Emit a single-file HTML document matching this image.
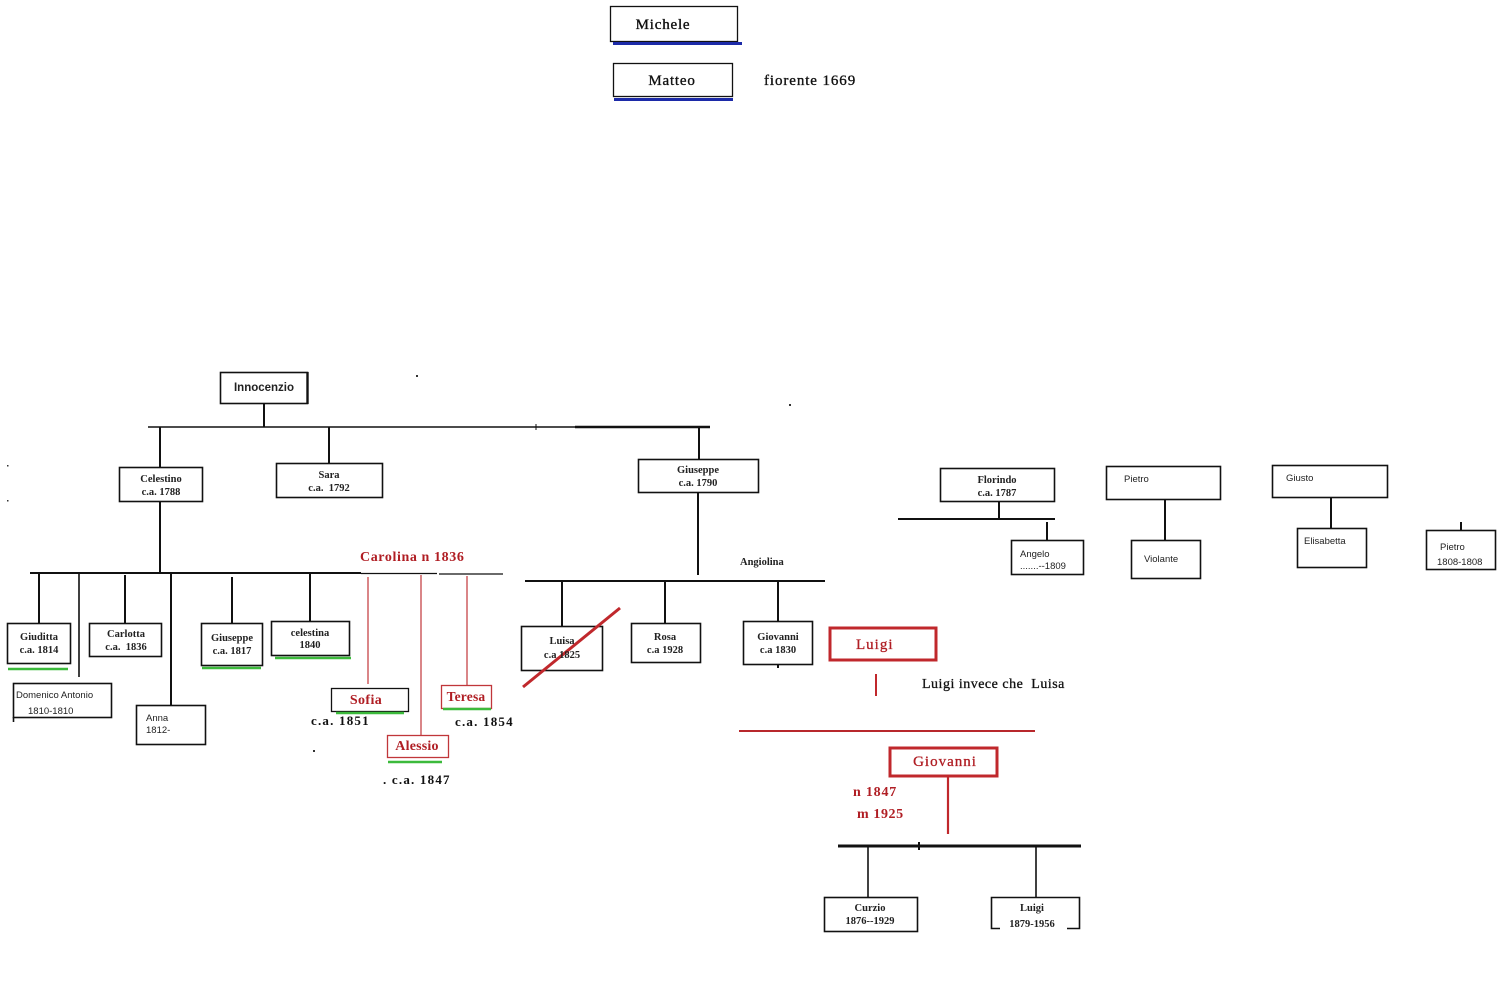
<!DOCTYPE html>
<html>
<head>
<meta charset="utf-8">
<style>
html,body{margin:0;padding:0;background:#fff;}
svg{display:block;}
.s{font-family:"Liberation Serif",serif;}
.a{font-family:"Liberation Sans",sans-serif;}
</style>
</head>
<body>
<svg width="1500" height="1000" viewBox="0 0 1500 1000" xmlns="http://www.w3.org/2000/svg">
<rect x="0" y="0" width="1500" height="1000" fill="#fff"/>

<!-- Top: Michele / Matteo -->
<g fill="none" stroke="#111" stroke-width="1.3">
  <rect x="610.5" y="6.5" width="127" height="35"/>
  <rect x="613.5" y="63.5" width="119" height="33"/>
</g>
<line x1="613" y1="43.5" x2="742" y2="43.5" stroke="#1c2aa8" stroke-width="3"/>
<line x1="614" y1="99.5" x2="733" y2="99.5" stroke="#1c2aa8" stroke-width="3"/>
<g class="s" font-size="15" fill="#111" stroke="#111" stroke-width="0.35">
<text x="663" y="29" letter-spacing="0.8" text-anchor="middle">Michele</text>
<text x="672" y="85" letter-spacing="0.8" text-anchor="middle">Matteo</text>
<text x="764" y="85" letter-spacing="0.9">fiorente 1669</text>
</g>

<!-- dots -->
<g fill="#333">
  <rect x="416" y="375" width="2" height="2"/>
  <rect x="789" y="404" width="2" height="2"/>
  <rect x="7" y="465" width="1.5" height="1.5"/>
  <rect x="7" y="500" width="1.5" height="1.5"/>
  <rect x="313" y="750" width="2" height="2"/>
</g>

<!-- Black connectors -->
<g stroke="#111" stroke-width="2" fill="none">
  <line x1="264" y1="403" x2="264" y2="427"/>
  <line x1="148" y1="427" x2="575" y2="427" stroke-width="1.6"/>
  <line x1="575" y1="427" x2="710" y2="427" stroke-width="2.6"/>
  <line x1="536" y1="424" x2="536" y2="430" stroke-width="1"/>
  <line x1="160" y1="427" x2="160" y2="467"/>
  <line x1="329" y1="427" x2="329" y2="463"/>
  <line x1="699" y1="427" x2="699" y2="459"/>
  <line x1="698" y1="492" x2="698" y2="575"/>
  <line x1="160" y1="501" x2="160" y2="573"/>
  <line x1="30" y1="573" x2="361" y2="573"/>
  <line x1="361" y1="573.5" x2="437" y2="573.5" stroke-width="1.2"/>
  <line x1="439" y1="574" x2="503" y2="574" stroke-width="1.2"/>
  <!-- Celestino children -->
  <line x1="39" y1="573" x2="39" y2="623"/>
  <line x1="79" y1="573" x2="79" y2="677" stroke-width="1.6"/>
  <line x1="125" y1="575" x2="125" y2="623"/>
  <line x1="171" y1="573" x2="171" y2="705"/>
  <line x1="232" y1="577" x2="232" y2="623"/>
  <line x1="310" y1="573" x2="310" y2="621"/>
  <!-- Giuseppe children -->
  <line x1="525" y1="581" x2="825" y2="581"/>
  <line x1="562" y1="581" x2="562" y2="626"/>
  <line x1="665" y1="581" x2="665" y2="623"/>
  <line x1="778" y1="581" x2="778" y2="621"/>
  <line x1="778" y1="664" x2="778" y2="668" stroke-width="2"/>
  <!-- Florindo -->
  <line x1="999" y1="501" x2="999" y2="519"/>
  <line x1="898" y1="519" x2="1055" y2="519"/>
  <line x1="1047" y1="522" x2="1047" y2="540"/>
  <!-- Pietro / Giusto -->
  <line x1="1165" y1="499" x2="1165" y2="540"/>
  <line x1="1331" y1="497" x2="1331" y2="528"/>
  <line x1="1461" y1="522" x2="1461" y2="530"/>
  <!-- Bottom family -->
  <line x1="838" y1="846" x2="1081" y2="846" stroke-width="3"/>
  <line x1="919" y1="842" x2="919" y2="850" stroke-width="2"/>
  <line x1="868" y1="846" x2="868" y2="897" stroke-width="1.6"/>
  <line x1="1036" y1="846" x2="1036" y2="897" stroke-width="1.6"/>
</g>

<!-- Black boxes -->
<g fill="#fff" stroke="#111" stroke-width="1.6">
  <rect x="220.5" y="372.5" width="87" height="31"/>
  <rect x="119.5" y="467.5" width="83" height="34"/>
  <rect x="276.5" y="463.5" width="106" height="34"/>
  <rect x="638.5" y="459.5" width="120" height="33"/>
  <rect x="7.5" y="623.5" width="63" height="40"/>
  <rect x="13.5" y="683.5" width="98" height="34"/>
  <rect x="89.5" y="623.5" width="72" height="33"/>
  <rect x="136.5" y="705.5" width="69" height="39"/>
  <rect x="201.5" y="623.5" width="61" height="42"/>
  <rect x="271.5" y="621.5" width="78" height="34"/>
  <rect x="521.5" y="626.5" width="81" height="44"/>
  <rect x="631.5" y="623.5" width="69" height="39"/>
  <rect x="743.5" y="621.5" width="69" height="43"/>
  <rect x="940.5" y="468.5" width="114" height="33"/>
  <rect x="1011.5" y="540.5" width="72" height="34"/>
  <rect x="1106.5" y="466.5" width="114" height="33"/>
  <rect x="1131.5" y="540.5" width="69" height="38"/>
  <rect x="1272.5" y="465.5" width="115" height="32"/>
  <rect x="1297.5" y="528.5" width="69" height="39"/>
  <rect x="1426.5" y="530.5" width="69" height="39"/>
  <rect x="824.5" y="897.5" width="93" height="34"/>
</g>
<line x1="13.5" y1="717" x2="13.5" y2="722" stroke="#111" stroke-width="1.6"/>
<line x1="307.5" y1="372" x2="307.5" y2="404" stroke="#111" stroke-width="2.4"/>
<!-- Luigi 1879 box with gap at bottom -->
<g stroke="#111" stroke-width="1.6" fill="none">
  <polyline points="1000,928.5 991.5,928.5 991.5,897.5 1079.5,897.5 1079.5,928.5 1067,928.5"/>
</g>

<!-- Red lines -->
<g stroke="#c0363a" stroke-width="1.2" fill="none">
  <line x1="368" y1="577" x2="368" y2="684"/>
  <line x1="421" y1="575" x2="421" y2="735"/>
  <line x1="467" y1="576" x2="467" y2="686"/>
</g>
<line x1="523" y1="687" x2="620" y2="608" stroke="#c0282c" stroke-width="3"/>
<line x1="876" y1="674" x2="876" y2="696" stroke="#c0282c" stroke-width="2"/>
<line x1="739" y1="731" x2="1035" y2="731" stroke="#b8282c" stroke-width="2"/>
<line x1="948" y1="776" x2="948" y2="834" stroke="#c0282c" stroke-width="2.2"/>

<!-- Red boxes -->
<rect x="331.5" y="688.5" width="77" height="23" fill="#fff" stroke="#111" stroke-width="1.3"/>
<rect x="387.5" y="735.5" width="61" height="22" fill="#fff" stroke="#c0363a" stroke-width="1.3"/>
<rect x="441.5" y="685.5" width="50" height="23" fill="#fff" stroke="#c0363a" stroke-width="1.3"/>
<rect x="830" y="628" width="106" height="32" fill="#fff" stroke="#c0282c" stroke-width="3"/>
<rect x="890" y="748" width="107" height="28" fill="#fff" stroke="#c0282c" stroke-width="3"/>

<!-- Green underlines -->
<g stroke="#3cba3c" stroke-width="2.4">
  <line x1="8" y1="669" x2="68" y2="669"/>
  <line x1="202" y1="668" x2="261" y2="668"/>
  <line x1="275" y1="658" x2="351" y2="658"/>
  <line x1="336" y1="713" x2="404" y2="713"/>
  <line x1="388" y1="762" x2="442" y2="762"/>
  <line x1="443" y1="709" x2="491" y2="709"/>
</g>

<!-- Black serif bold labels -->
<g class="s" font-size="10.5" font-weight="bold" fill="#222" text-anchor="middle">
  <text x="161" y="482">Celestino</text>
  <text x="161" y="495">c.a. 1788</text>
  <text x="329" y="478">Sara</text>
  <text x="329" y="491" xml:space="preserve">c.a.  1792</text>
  <text x="698" y="473">Giuseppe</text>
  <text x="698" y="486">c.a. 1790</text>
  <text x="39" y="640">Giuditta</text>
  <text x="39" y="653">c.a. 1814</text>
  <text x="126" y="637">Carlotta</text>
  <text x="126" y="650" xml:space="preserve">c.a.  1836</text>
  <text x="232" y="641">Giuseppe</text>
  <text x="232" y="654">c.a. 1817</text>
  <text x="310" y="636">celestina</text>
  <text x="310" y="648">1840</text>
  <text x="562" y="644">Luisa</text>
  <text x="562" y="658">c.a 1825</text>
  <text x="665" y="640">Rosa</text>
  <text x="665" y="653">c.a 1928</text>
  <text x="778" y="640">Giovanni</text>
  <text x="778" y="653">c.a 1830</text>
  <text x="997" y="483">Florindo</text>
  <text x="997" y="496">c.a. 1787</text>
  <text x="870" y="911">Curzio</text>
  <text x="870" y="924">1876--1929</text>
  <text x="1032" y="911">Luigi</text>
  <text x="1032" y="927">1879-1956</text>
</g>
<text class="s" x="740" y="565" font-size="10.5" font-weight="bold" fill="#222">Angiolina</text>

<!-- Arial labels -->
<text class="a" x="264" y="391" font-size="11.5" font-weight="bold" fill="#222" text-anchor="middle">Innocenzio</text>
<g class="a" font-size="9.5" fill="#222">
  <text x="16" y="698">Domenico Antonio</text>
  <text x="28" y="714">1810-1810</text>
  <text x="146" y="721">Anna</text>
  <text x="146" y="733">1812-</text>
  <text x="1020" y="557">Angelo</text>
  <text x="1020" y="569">.......--1809</text>
  <text x="1124" y="482">Pietro</text>
  <text x="1144" y="562">Violante</text>
  <text x="1286" y="481">Giusto</text>
  <text x="1304" y="544">Elisabetta</text>
  <text x="1440" y="550">Pietro</text>
  <text x="1437" y="565">1808-1808</text>
</g>

<!-- Red labels -->
<g class="s" fill="#b01e24">
  <text x="360" y="561" font-size="14" font-weight="bold" letter-spacing="0.6">Carolina n 1836</text>
  <text x="366" y="704" font-size="14" font-weight="bold" letter-spacing="0.4" text-anchor="middle">Sofia</text>
  <text x="417" y="750" font-size="14" font-weight="bold" letter-spacing="0.2" text-anchor="middle">Alessio</text>
  <text x="466" y="701" font-size="13.5" font-weight="bold" letter-spacing="0.2" text-anchor="middle">Teresa</text>
  <text x="856" y="649" font-size="15" letter-spacing="1" stroke="#b01e24" stroke-width="0.3">Luigi</text>
  <text x="945" y="766" font-size="15" letter-spacing="1" text-anchor="middle" stroke="#b01e24" stroke-width="0.3">Giovanni</text>
  <text x="853" y="796" font-size="14" font-weight="bold" letter-spacing="0.8">n 1847</text>
  <text x="857" y="818" font-size="14" font-weight="bold" letter-spacing="0.6">m 1925</text>
</g>

<!-- Black date labels -->
<g class="s" font-size="13" font-weight="bold" fill="#111" letter-spacing="1.2">
  <text x="311" y="725">c.a. 1851</text>
  <text x="455" y="726">c.a. 1854</text>
  <text x="383" y="784">. c.a. 1847</text>
</g>
<text class="s" x="922" y="688" font-size="14" letter-spacing="0.5" fill="#111" stroke="#111" stroke-width="0.3" xml:space="preserve">Luigi invece che  Luisa</text>
</svg>
</body>
</html>
